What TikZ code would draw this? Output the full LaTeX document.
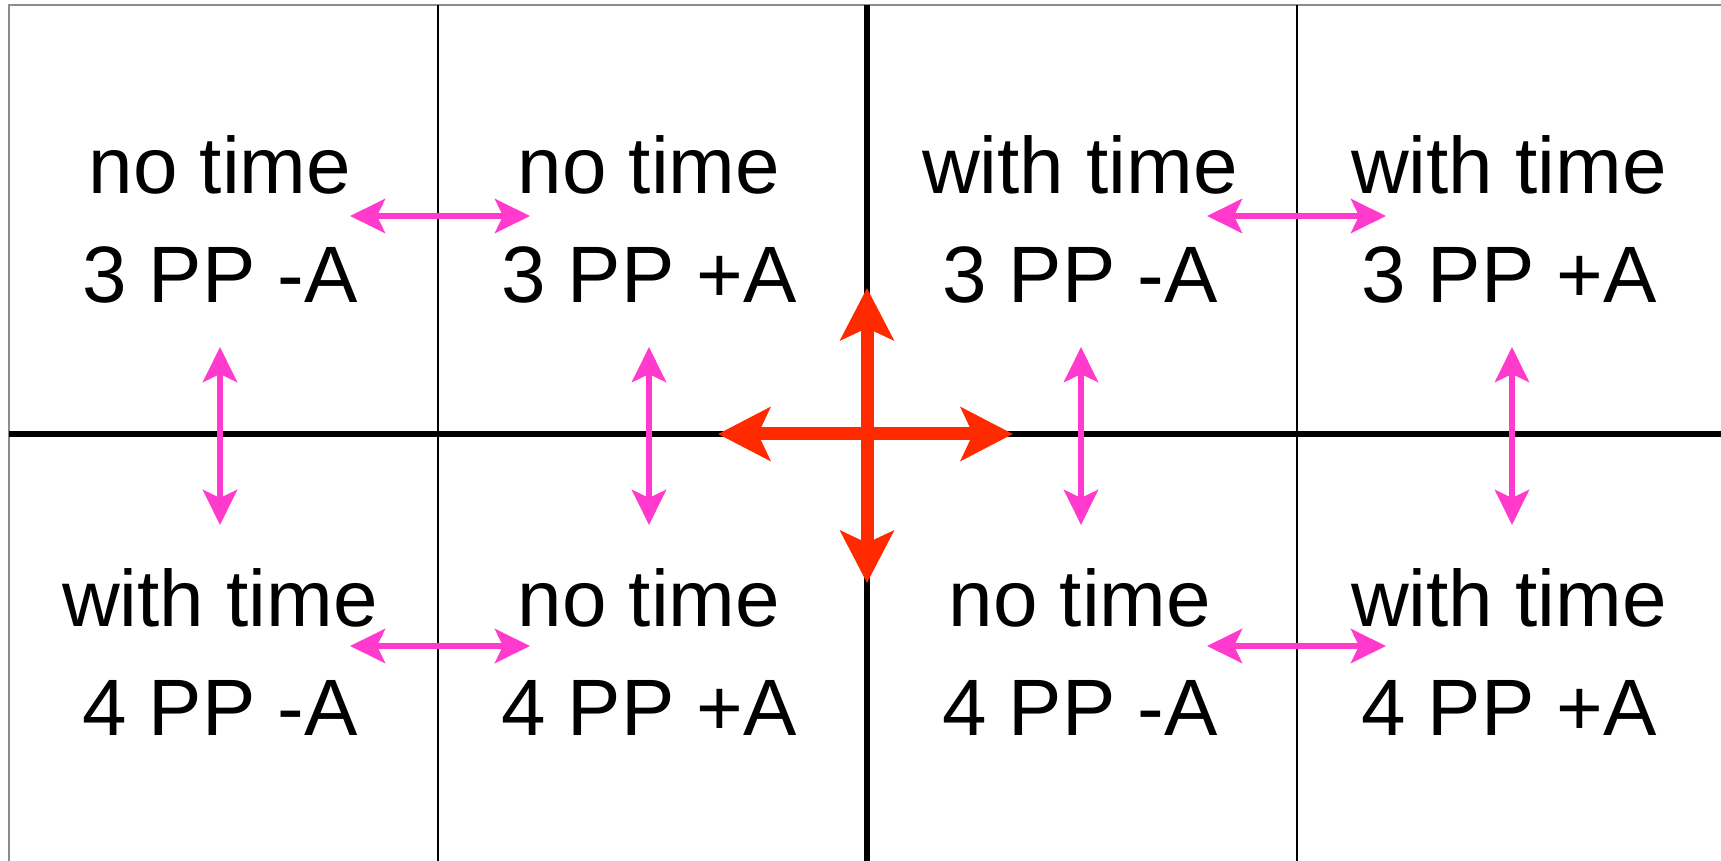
\documentclass[tikz,border=0pt]{standalone}
\usepackage{fontspec}
\setmainfont{Liberation Sans}
\usetikzlibrary{arrows.meta}
\definecolor{gridgray}{RGB}{140,140,140}
\definecolor{bigred}{RGB}{255,42,0}
\definecolor{pinkarrow}{RGB}{255,58,205}
\tikzset{
  lbl/.style={anchor=base, inner sep=0pt, font=\fontsize{40}{48}\selectfont},
  thinline/.style={draw=black, line width=1pt},
  thickline/.style={draw=black, line width=3pt},
  bigarrow/.style={draw=bigred, line width=6.5pt,
     {Stealth[length=26pt,width=26.5pt,inset=6pt]}-{Stealth[length=26pt,width=26.5pt,inset=6pt]}},
  pinkarr/.style={draw=pinkarrow, line width=3pt,
     {Stealth[length=17.5pt,width=17pt,inset=4pt]}-{Stealth[length=17.5pt,width=17pt,inset=4pt]}}
}
\begin{document}
\begin{tikzpicture}[x=0.5pt,y=-0.5pt]
\useasboundingbox (0,0) rectangle (1721,861);
\fill[white] (0,0) rectangle (1721,861);
% outer border
\draw[draw=gridgray, line width=1.3pt] (1721,5) -- (9,5) -- (9,861);
% grid
\draw[thinline] (438,5) -- (438,861);
\draw[thinline] (1297,5) -- (1297,861);
\draw[thickline] (867,5) -- (867,861);
\draw[thickline] (9,434) -- (1721,434);
% labels top row
\node[lbl] (t1a) at (220,194) {no time};
\node[lbl] (t1b) at (220,303) {3 PP -A};
\node[lbl] (t2a) at (649,194) {no time};
\node[lbl] (t2b) at (649,303) {3 PP +A};
\node[lbl] (t3a) at (1080,194) {with time};
\node[lbl] (t3b) at (1080,303) {3 PP -A};
\node[lbl] (t4a) at (1509,194) {with time};
\node[lbl] (t4b) at (1509,303) {3 PP +A};
% labels bottom row
\node[lbl] (b1a) at (220,626) {with time};
\node[lbl] (b1b) at (220,735) {4 PP -A};
\node[lbl] (b2a) at (649,626) {no time};
\node[lbl] (b2b) at (649,735) {4 PP +A};
\node[lbl] (b3a) at (1080,626) {no time};
\node[lbl] (b3b) at (1080,735) {4 PP -A};
\node[lbl] (b4a) at (1509,626) {with time};
\node[lbl] (b4b) at (1509,735) {4 PP +A};
% coordinates for arrows
\coordinate (rl) at (718,434);
\coordinate (rr) at (1013,434);
\coordinate (rt) at (867,288);
\coordinate (rb) at (867,583);
\coordinate (h1l) at (350,216);  \coordinate (h1r) at (530,216);
\coordinate (h2l) at (1207,216); \coordinate (h2r) at (1386,216);
\coordinate (h3l) at (350,646);  \coordinate (h3r) at (530,646);
\coordinate (h4l) at (1207,646); \coordinate (h4r) at (1386,646);
\coordinate (v1t) at (220,347);  \coordinate (v1b) at (220,525);
\coordinate (v2t) at (649,347);  \coordinate (v2b) at (649,525);
\coordinate (v3t) at (1081,347); \coordinate (v3b) at (1081,525);
\coordinate (v4t) at (1512,347); \coordinate (v4b) at (1512,525);
% pink arrows
\draw[pinkarr] (h1l) -- (h1r);
\draw[pinkarr] (h2l) -- (h2r);
\draw[pinkarr] (h3l) -- (h3r);
\draw[pinkarr] (h4l) -- (h4r);
\draw[pinkarr] (v1t) -- (v1b);
\draw[pinkarr] (v2t) -- (v2b);
\draw[pinkarr] (v3t) -- (v3b);
\draw[pinkarr] (v4t) -- (v4b);
% red cross arrows
\draw[bigarrow] (rl) -- (rr);
\draw[bigarrow] (rt) -- (rb);
\end{tikzpicture}
\end{document}
